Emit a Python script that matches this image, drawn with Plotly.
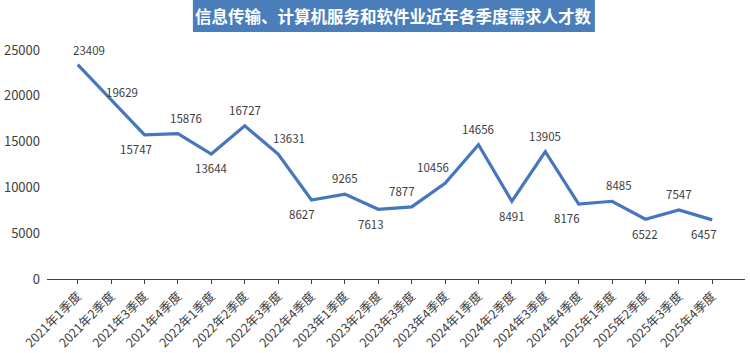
import plotly.graph_objects as go

categories = ["2021年1季度", "2021年2季度", "2021年3季度", "2021年4季度",
              "2022年1季度", "2022年2季度", "2022年3季度", "2022年4季度",
              "2023年1季度", "2023年2季度", "2023年3季度", "2023年4季度",
              "2024年1季度", "2024年2季度", "2024年3季度", "2024年4季度",
              "2025年1季度", "2025年2季度", "2025年3季度", "2025年4季度"]
values = [23409, 19629, 15747, 15876, 13644, 16727, 13631, 8627, 9265, 7613,
          7877, 10456, 14656, 8491, 13905, 8176, 8485, 6522, 7547, 6457]
y_ticks = [0, 5000, 10000, 15000, 20000, 25000]
title_text = "信息传输、计算机服务和软件业近年各季度需求人才数"

# label pixel offsets (style only)
label_dx = [11, 11, -9, 8, 0, 0, 11, -10, 0, -7, -10, -12, 0, 0, 0, -12, 7, 0, 0, -8]
label_dy = [15, 7, -14, 16, -14, 16, 16, -14, 16, -15, 16, 16, 16, -15, 16, -14, 16, -15, 16, -14]

FONT = "Noto Sans CJK SC, Microsoft YaHei, sans-serif"
xs = list(range(len(categories)))

fig = go.Figure()
fig.add_trace(go.Scatter(
    x=xs, y=values, mode="lines",
    line=dict(color="#4676BE", width=3.2),
    hoverinfo="skip", showlegend=False,
))

for x, v, dx, dy in zip(xs, values, label_dx, label_dy):
    fig.add_annotation(
        x=x, y=v, xref="x", yref="y", text=str(v), showarrow=False,
        xshift=dx, yshift=dy,
        font=dict(family=FONT, size=11.5, color="#404040"),
    )

fig.add_shape(type="rect", xref="paper", yref="paper",
              x0=0.209, x1=0.785, y0=1.0786, y1=1.218,
              fillcolor="#4A7EBB", line=dict(color="#4A7EBB", width=0), layer="above")
fig.add_annotation(
    xref="paper", yref="paper", x=0.497, y=1.148, text="<b>" + title_text + "</b>",
    showarrow=False, font=dict(family=FONT, size=16.5, color="white"),
    xanchor="center", yanchor="middle",
)

fig.update_layout(
    width=750, height=353,
    margin=dict(l=47, r=5, t=50, b=74, autoexpand=False),
    paper_bgcolor="white", plot_bgcolor="white",
    font=dict(family=FONT),
    xaxis=dict(
        range=[-0.92, 19.98], automargin=False,
        tickmode="array", tickvals=xs, ticktext=categories,
        tickangle=-45, ticks="outside", ticklen=4, tickcolor="#404040",
        showline=True, linecolor="#404040", linewidth=1,
        showgrid=False, zeroline=False,
        tickfont=dict(family=FONT, size=12.5, color="#404040"),
    ),
    yaxis=dict(
        range=[0, 25000], tickmode="array", tickvals=y_ticks, automargin=False,
        ticktext=[str(t) for t in y_ticks],
        showgrid=False, zeroline=False, showline=False,
        ticks="", ticklabelstandoff=6,
        tickfont=dict(family=FONT, size=13, color="#404040"),
    ),
)

fig.write_html("out.html")
